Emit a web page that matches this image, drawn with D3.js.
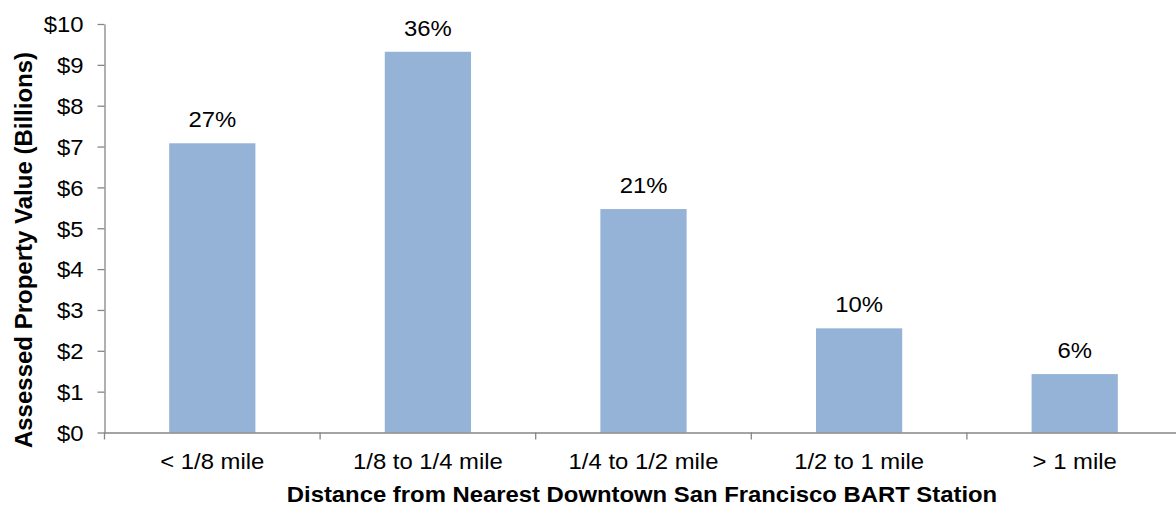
<!DOCTYPE html>
<html><head><meta charset="utf-8">
<script src="https://cdn.jsdelivr.net/npm/d3@7"></script>
<style>body{margin:0;background:#fff}svg{display:block}text{font-family:"Liberation Sans",Arial,sans-serif}</style>
</head><body><svg id="c" width="1176" height="506"></svg>
<script>
const categories = ["< 1/8 mile","1/8 to 1/4 mile","1/4 to 1/2 mile","1/2 to 1 mile","> 1 mile"];
const values = [7.08, 9.32, 5.47, 2.55, 1.43];
const shares = ["27%","36%","21%","10%","6%"];
const yTicks = [0,1,2,3,4,5,6,7,8,9,10];

(function(){
const svg = d3.select("#c");
const pLeft = 104.5, pRight = 1182.5, pTop = 24, pBottom = 432.5;
const FS = 22, SX = 1.085;
const x = d3.scaleBand().domain(categories).range([pLeft, pRight]).paddingInner(0.6).paddingOuter(0.3);
const y = d3.scaleLinear().domain([0,10]).range([pBottom, pTop]);
const axisColor = "#868686";

svg.selectAll("rect.bar").data(values).join("rect")
  .attr("x", (d,i)=>x(categories[i])).attr("width", x.bandwidth())
  .attr("y", d=>y(d)).attr("height", d=>y(0)-y(d)).attr("fill", "#95B3D7");

svg.selectAll("text.lbl").data(values).join("text")
  .attr("transform", (d,i)=>`translate(${x(categories[i])+x.bandwidth()/2},${y(d)-16}) scale(${SX},1)`)
  .attr("text-anchor","middle").attr("font-size",FS).attr("fill","#000")
  .text((d,i)=>shares[i]);

const ya = svg.append("g").attr("transform",`translate(${pLeft},0)`)
  .call(d3.axisLeft(y).tickValues(yTicks).tickFormat(d=>"$"+d).tickSize(7).tickSizeOuter(0));
ya.select(".domain").attr("stroke",axisColor).attr("stroke-width",1.3);
ya.selectAll(".tick line").attr("stroke",axisColor).attr("stroke-width",1.3);
ya.selectAll(".tick text").attr("x",0).attr("dy",null)
  .attr("transform",`translate(-21,${FS*0.358}) scale(${SX},1)`)
  .attr("font-size",FS).attr("fill","#000").attr("font-family","Liberation Sans, Arial, sans-serif");

const xa = svg.append("g").attr("transform",`translate(0,${pBottom})`)
  .call(d3.axisBottom(x).tickSize(0));
xa.select(".domain").attr("stroke",axisColor).attr("stroke-width",1.3);
xa.selectAll(".tick text").attr("y",0).attr("dy",null)
  .attr("transform",`translate(0,36.8) scale(${SX},1)`)
  .attr("font-size",FS).attr("fill","#000").attr("font-family","Liberation Sans, Arial, sans-serif");
const step = x.step();
const bounds = d3.range(categories.length+1).map(i=>pLeft + i*step);
svg.selectAll("line.bt").data(bounds).join("line")
  .attr("x1",d=>d).attr("x2",d=>d).attr("y1",pBottom).attr("y2",pBottom+7)
  .attr("stroke",axisColor).attr("stroke-width",1.3);

svg.append("text").attr("transform",`translate(31.5,250) rotate(-90)`)
  .attr("text-anchor","middle").attr("font-size",24).attr("font-weight","bold")
  .text("Assessed Property Value (Billions)");
svg.append("text").attr("transform",`translate(642,501.5) scale(${SX},1)`).attr("text-anchor","middle")
  .attr("font-size",FS).attr("font-weight","bold")
  .text("Distance from Nearest Downtown San Francisco BART Station");
})();
</script></body></html>
